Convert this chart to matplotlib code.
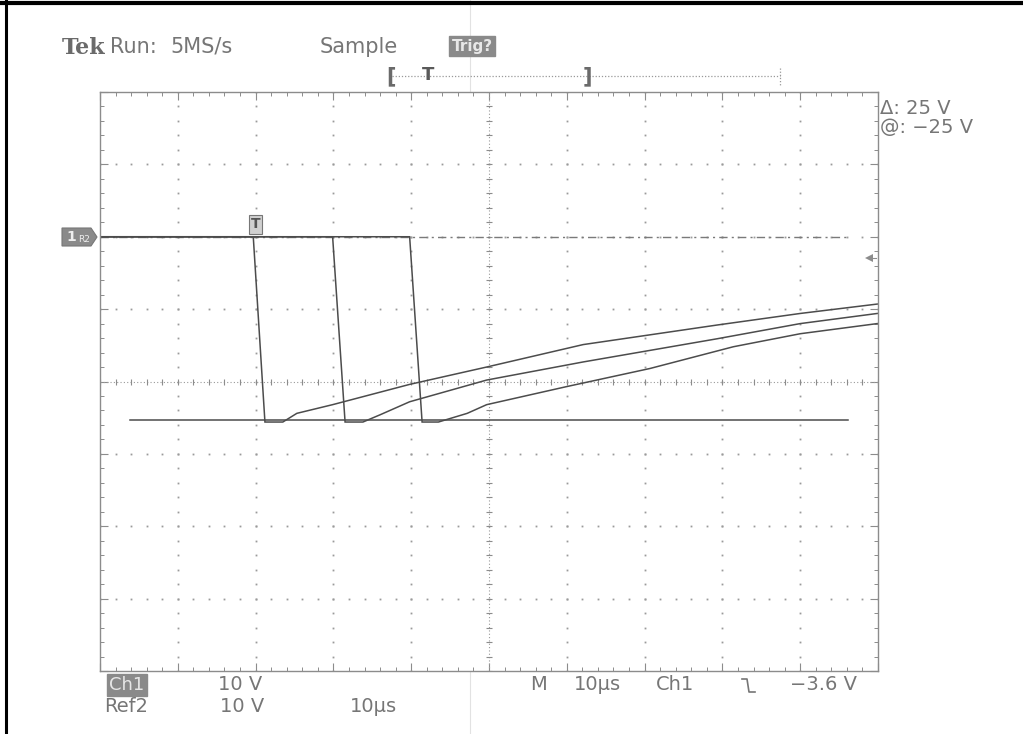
import matplotlib
matplotlib.use("Agg")
import matplotlib.pyplot as plt
from matplotlib.patches import Polygon
import numpy as np

# ---------------- data (time in µs, voltage in V, Ch1 10 V/div, 10 µs/div) ----------------
t1_t = [0, 19.7, 21.2, 23.5, 25.3, 29.9, 39.8, 49.7, 62.1, 79.3, 90.0, 99.9]
t1_v = [0, 0, -25.6, -25.6, -24.4, -23.2, -20.4, -18.0, -14.9, -12.2, -10.6, -9.3]

t2_t = [0, 29.9, 31.5, 33.8, 36.0, 39.8, 49.7, 62.1, 79.3, 90.0, 99.9]
t2_v = [0, 0, -25.6, -25.6, -24.6, -22.8, -19.8, -17.3, -14.1, -12.0, -10.6]

t3_t = [0, 39.8, 41.4, 43.5, 47.2, 49.7, 60.0, 70.7, 81.4, 90.0, 99.9]
t3_v = [0, 0, -25.6, -25.6, -24.4, -23.2, -20.7, -18.2, -15.2, -13.4, -12.0]

ref_t = [3.9, 96.1]
ref_v = [-25.3, -25.3]

cursor_t = [0, 96.1]
cursor_v = [0, 0]

trigger_time = 19.8
trigger_level = -3.6

x_ticks = list(range(0, 101, 10))
y_ticks = list(range(-60, 21, 10))

header = ["Tek", "Run:", "5MS/s", "Sample", "Trig?"]
cursor_text = ["\u0394: 25 V", "@: \u221225 V"]
ch1_row = ["Ch1", "10 V", "M", "10\u00b5s", "Ch1", "\u22123.6 V"]
ref_row = ["Ref2", "10 V", "10\u00b5s"]

# ---------------- figure ----------------
W, H = 1023, 734
fig = plt.figure(figsize=(W / 100, H / 100), dpi=100)
fig.patch.set_facecolor("white")

def fx(px):
    return px / W

def fy(py):
    return 1 - py / H

L, R, T, B = 100, 878, 92, 671
ax = fig.add_axes([fx(L), fy(B), (R - L) / W, (B - T) / H])
ax.set_xlim(0, 100)
ax.set_ylim(-60, 20)
ax.set_facecolor("white")

grid_c = "#9a9a9a"
trace_c = "#4c4c4c"
text_c = "#767676"

for s in ax.spines.values():
    s.set_color("#8c8c8c")
    s.set_linewidth(1.0)

ax.set_xticks(x_ticks)
ax.set_yticks(y_ticks)
ax.set_xticks(np.arange(0, 101, 2), minor=True)
ax.set_yticks(np.arange(-60, 21, 2), minor=True)
ax.tick_params(which="both", direction="in", top=True, right=True,
               labelbottom=False, labelleft=False, color="#8c8c8c")
ax.tick_params(which="major", length=6, width=0.8)
ax.tick_params(which="minor", length=3, width=0.7)

# graticule dots
minor_x = np.arange(0, 101, 2)
minor_y = np.arange(-60, 21, 2)
for gx in x_ticks[1:-1]:
    if gx == 50:
        continue
    ax.plot([gx] * len(minor_y), minor_y, ls="none", marker="s", ms=1.3,
            color=grid_c, mew=0)
for gy in y_ticks[1:-1]:
    if gy == -20:
        continue
    ax.plot(minor_x, [gy] * len(minor_x), ls="none", marker="s", ms=1.3,
            color=grid_c, mew=0)

# center crosshair with ticks
ax.axvline(50, color=grid_c, lw=0.8, ls=(0, (1, 2)))
ax.axhline(-20, color=grid_c, lw=0.8, ls=(0, (1, 2)))
ax.plot([50] * len(minor_y), minor_y, ls="none", marker="_", ms=5,
        color="#8c8c8c", mew=0.8)
ax.plot(minor_x, [-20] * len(minor_x), ls="none", marker="|", ms=5,
        color="#8c8c8c", mew=0.8)

# cursor dashed line at 0 V
ax.plot(cursor_t, cursor_v, color="#7a7a7a", lw=1.0, ls=(0, (6, 3, 1.5, 3)))

# reference line
ax.plot(ref_t, ref_v, color=trace_c, lw=1.1)

# traces
for tt, vv in [(t1_t, t1_v), (t2_t, t2_v), (t3_t, t3_v)]:
    ax.plot(tt, vv, color=trace_c, lw=1.1, solid_joinstyle="miter")

# trigger level arrow (right side)
ax.plot([98.8], [trigger_level + 0.6], marker="<", ms=6, color="#8c8c8c", mew=0,
        clip_on=False)
ax.plot([98.8, 99.8], [trigger_level + 0.6] * 2, color="#8c8c8c", lw=0.8)

# trigger position marker "T"
ax.text(trigger_time + 0.2, 1.7, "T", ha="center", va="center", fontsize=10,
        color="#555555", fontweight="bold",
        bbox=dict(boxstyle="square,pad=0.15", fc="#d0d0d0", ec="#777777", lw=0.8))

# ---------------- texts around the screen ----------------
fig.text(fx(62), fy(48), header[0], fontsize=16, family="DejaVu Serif",
         fontweight="bold", color="#6a6a6a", va="center", ha="left")
fig.text(fx(110), fy(47), header[1], fontsize=15, color=text_c, va="center", ha="left")
fig.text(fx(170), fy(47), header[2], fontsize=15, color=text_c, va="center", ha="left")
fig.text(fx(320), fy(47), header[3], fontsize=15, color=text_c, va="center", ha="left")
fig.text(fx(472), fy(46), header[4], fontsize=11, color="#e8e8e8", va="center",
         ha="center", fontweight="bold",
         bbox=dict(boxstyle="square,pad=0.15", fc="#8a8a8a", ec="#8a8a8a"))

# record bar
fig.add_artist(plt.Line2D([fx(392), fx(780)], [fy(76), fy(76)], color="#999999",
                          lw=0.9, ls=(0, (1, 1.5))))
fig.add_artist(plt.Line2D([fx(780), fx(780)], [fy(68), fy(86)], color="#999999",
                          lw=0.9, ls=(0, (1, 1.5))))
fig.text(fx(391), fy(76), "[", fontsize=15, color="#6a6a6a", va="center", ha="center",
         fontweight="bold")
fig.text(fx(428), fy(75), "T", fontsize=13, color="#5a5a5a", va="center", ha="center",
         fontweight="bold")
fig.text(fx(587), fy(76), "]", fontsize=15, color="#6a6a6a", va="center", ha="center",
         fontweight="bold")

# cursor readout
fig.text(fx(880), fy(108), cursor_text[0], fontsize=14, color=text_c, va="center", ha="left")
fig.text(fx(880), fy(127), cursor_text[1], fontsize=14, color=text_c, va="center", ha="left")

# channel marker on the left
fig.add_artist(Polygon([[fx(62), fy(228)], [fx(91), fy(228)], [fx(97), fy(237)],
                        [fx(91), fy(246)], [fx(62), fy(246)]], closed=True,
                       transform=fig.transFigure, fc="#8a8a8a", ec="#777777", lw=0.8))
fig.text(fx(71), fy(237), "1", fontsize=10, color="#eeeeee", va="center", ha="center",
         fontweight="bold")
fig.text(fx(84), fy(240), "R2", fontsize=6.5, color="#eeeeee", va="center", ha="center")

# bottom rows
fig.text(fx(127), fy(685), ch1_row[0], fontsize=13, color="#e6e6e6", va="center",
         ha="center",
         bbox=dict(boxstyle="square,pad=0.12", fc="#8a8a8a", ec="#8a8a8a"))
fig.text(fx(218), fy(685), ch1_row[1], fontsize=14, color=text_c, va="center")
fig.text(fx(530), fy(685), ch1_row[2], fontsize=14, color=text_c, va="center")
fig.text(fx(574), fy(685), ch1_row[3], fontsize=14, color=text_c, va="center")
fig.text(fx(656), fy(685), ch1_row[4], fontsize=14, color=text_c, va="center")
# falling-edge slope symbol
fig.add_artist(plt.Line2D([fx(742), fx(747), fx(749), fx(755)],
                          [fy(679), fy(679), fy(692), fy(692)],
                          color=text_c, lw=1.2))
fig.text(fx(790), fy(685), ch1_row[5], fontsize=14, color=text_c, va="center")

fig.text(fx(104), fy(706), ref_row[0], fontsize=14, color=text_c, va="center")
fig.text(fx(220), fy(706), ref_row[1], fontsize=14, color=text_c, va="center")
fig.text(fx(350), fy(706), ref_row[2], fontsize=14, color=text_c, va="center")

# scan artefacts: black frame edges and a faint vertical line
fig.add_artist(plt.Line2D([fx(6), fx(6)], [0, 1], color="black", lw=2.2))
fig.add_artist(plt.Line2D([0, 1], [fy(2.5), fy(2.5)], color="black", lw=3))
fig.add_artist(plt.Line2D([fx(470), fx(470)], [0, 1], color="#e2e2e2", lw=0.8, zorder=0))

fig.savefig("out.png", dpi=100, facecolor="white")
